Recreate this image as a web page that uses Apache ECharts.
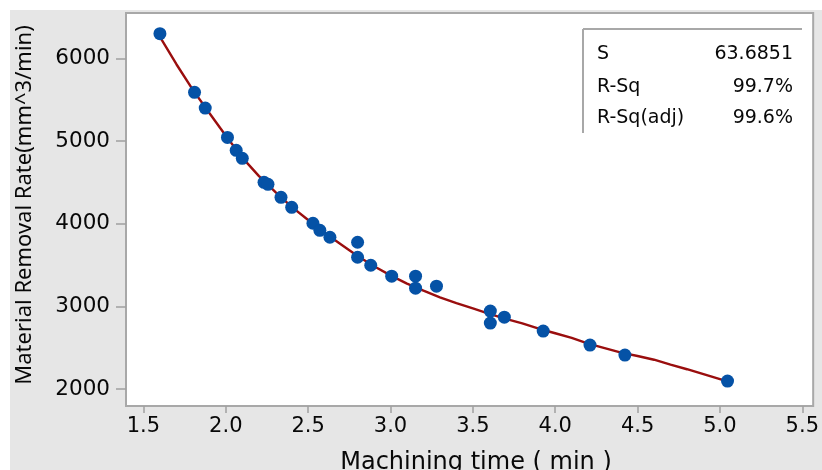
<!DOCTYPE html>
<html>
<head>
<meta charset="utf-8">
<script src="https://cdn.jsdelivr.net/npm/echarts@6/dist/echarts.min.js"></script>
<style>
  html, body { margin: 0; padding: 0; background: #ffffff; }
  #chart { width: 822px; height: 470px; }
</style>
</head>
<body>
<div id="chart"></div>
<script>
// Observed machining time (min) vs material removal rate (mm^3/min)
const machiningTime = [1.60, 1.81, 1.875, 2.01, 2.063, 2.10, 2.232, 2.256, 2.335, 2.40,
  2.529, 2.571, 2.632, 2.80, 2.80, 2.88, 3.007, 3.152, 3.152, 3.279,
  3.606, 3.606, 3.691, 3.927, 4.211, 4.423, 5.046];
const removalRate = [6300, 5590, 5400, 5045, 4888, 4792, 4501, 4477, 4320, 4199,
  4006, 3921, 3837, 3776, 3595, 3498, 3366, 3366, 3221, 3245,
  2943, 2798, 2870, 2701, 2532, 2411, 2097];

// Fitted regression curve
const fitTime = [1.60, 1.70, 1.80, 1.90, 2.00, 2.10, 2.20, 2.30, 2.40, 2.50,
  2.60, 2.70, 2.80, 2.90, 3.00, 3.10, 3.20, 3.30, 3.40, 3.50,
  3.60, 3.70, 3.80, 3.90, 4.00, 4.10, 4.20, 4.30, 4.40, 4.50,
  4.60, 4.70, 4.80, 4.90, 5.00, 5.05];
const fitRate = [6260, 5930, 5620, 5340, 5065, 4800, 4580, 4385, 4205, 4045,
  3890, 3750, 3610, 3485, 3375, 3275, 3190, 3110, 3040, 2975,
  2910, 2850, 2795, 2730, 2675, 2620, 2550, 2495, 2440, 2400,
  2355, 2295, 2240, 2180, 2120, 2090];

// Axis ticks
const xTicks = [1.5, 2.0, 2.5, 3.0, 3.5, 4.0, 4.5, 5.0, 5.5];
const yTicks = [2000, 3000, 4000, 5000, 6000];

// Goodness-of-fit summary
const statNames = ['S', 'R-Sq', 'R-Sq(adj)'];
const statValues = ['63.6851', '99.7%', '99.6%'];

const WIDE = '"DejaVu Sans", "Noto Sans", sans-serif';
const FONT = '"Noto Sans", "Open Sans", sans-serif';
const TEXT = '#080808';
const chart = echarts.init(document.getElementById('chart'));

const statText = [];
const rowY = [54, 87, 118];
statNames.forEach((n, i) => {
  statText.push({ type: 'text', x: 597, y: rowY[i], z: 50,
    style: { text: n, font: '19px ' + WIDE, fill: TEXT, verticalAlign: 'middle' } });
  statText.push({ type: 'text', x: 793, y: rowY[i], z: 50,
    style: { text: statValues[i], font: '19px ' + WIDE, fill: TEXT,
      align: 'right', verticalAlign: 'middle' } });
});

chart.setOption({
  animation: false,
  backgroundColor: '#ffffff',
  graphic: [
    { type: 'rect', z: -10, shape: { x: 10, y: 10, width: 812, height: 460 },
      style: { fill: '#e6e6e6' } },
    { type: 'line', z: 50, shape: { x1: 583, y1: 29, x2: 802, y2: 29 },
      style: { stroke: '#a8a8a8', lineWidth: 2 } },
    { type: 'line', z: 50, shape: { x1: 583, y1: 29, x2: 583, y2: 133 },
      style: { stroke: '#a8a8a8', lineWidth: 2 } },
    ...statText,
    { type: 'text', x: 476, y: 463, z: 50,
      style: { text: 'Machining time ( min )', font: '24px ' + WIDE, fill: TEXT,
        align: 'center', verticalAlign: 'middle' } },
    { type: 'text', x: 25, y: 205, rotation: Math.PI / 2, z: 50,
      style: { text: 'Material Removal Rate(mm^3/min)', font: '22px ' + FONT, fill: TEXT,
        align: 'center', verticalAlign: 'middle' } }
  ],
  grid: {
    left: 126, right: 5, top: 13, bottom: 64,
    show: true, backgroundColor: '#ffffff', borderColor: '#a8a8a8', borderWidth: 2
  },
  xAxis: {
    type: 'value', min: 1.394, max: 5.566,
    axisLine: { show: false },
    splitLine: { show: false },
    axisTick: { show: true, length: 7, customValues: xTicks,
      lineStyle: { color: '#a0a0a0', width: 1.5 } },
    axisLabel: { customValues: xTicks, margin: 10, fontSize: 21, fontFamily: WIDE,
      color: TEXT, formatter: v => Number(v).toFixed(1) }
  },
  yAxis: {
    type: 'value', min: 1795, max: 6550,
    axisLine: { show: false },
    splitLine: { show: false },
    axisTick: { show: true, length: 10, customValues: yTicks,
      lineStyle: { color: '#a0a0a0', width: 1.5 } },
    axisLabel: { customValues: yTicks, margin: 16, fontSize: 21.5, fontFamily: WIDE,
      color: TEXT, formatter: v => String(Math.round(v)) }
  },
  series: [
    {
      type: 'line', name: 'Fit', showSymbol: false, smooth: false,
      data: fitTime.map((x, i) => [x, fitRate[i]]),
      lineStyle: { color: '#9a0e0e', width: 2.4 }, z: 2
    },
    {
      type: 'scatter', name: 'Observed', symbol: 'circle', symbolSize: 13,
      data: machiningTime.map((x, i) => [x, removalRate[i]]),
      itemStyle: { color: '#0552a6', opacity: 1 }, z: 3
    }
  ]
});
</script>
</body>
</html>
